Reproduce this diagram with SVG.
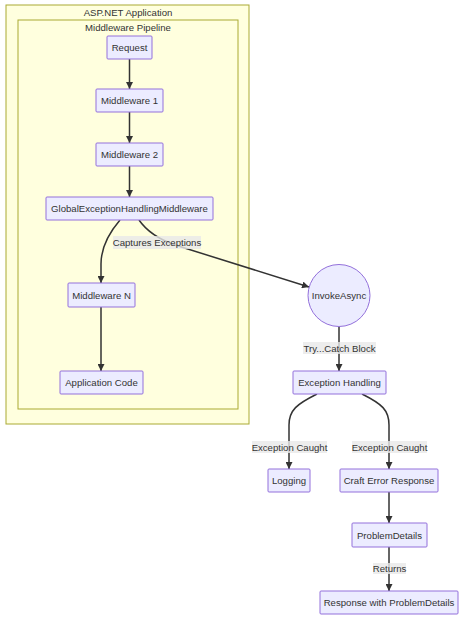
<svg xmlns="http://www.w3.org/2000/svg" width="474" height="620" viewBox="0 0 474 620">
<defs>
<style>
.cluster{fill:#ffffde;stroke:#aaaa33;stroke-width:1}
.node rect,.node circle{fill:#ECECFF;stroke:#9370DB;stroke-width:1}
text{font-family:"Liberation Sans",Arial,sans-serif;font-size:9.6px;fill:#333;text-anchor:middle;dominant-baseline:central}
.edge{fill:none;stroke:#333;stroke-width:1.5}
.lbl rect{fill:#e8e8e8;fill-opacity:0.8;stroke:none}
</style>
<marker id="arrow" viewBox="0 0 10 10" refX="10" refY="5" markerWidth="7" markerHeight="7" markerUnits="userSpaceOnUse" orient="auto">
<path d="M0,0 L10,5 L0,10 z" fill="#333"/>
</marker>
</defs>
<rect width="474" height="620" fill="#fff"/>
<g id="cluster-app">
<rect class="cluster" x="6" y="5" width="243" height="419"/>
<text x="128" y="12">ASP.NET Application</text>
</g>
<g id="cluster-pipeline">
<rect class="cluster" x="18" y="20" width="220" height="389"/>
<text x="128" y="27">Middleware Pipeline</text>
</g>
<g id="connectors">
<path class="edge" d="M129.5,59 L129.5,89" marker-end="url(#arrow)"/>
<path class="edge" d="M129.5,112 L129.5,143" marker-end="url(#arrow)"/>
<path class="edge" d="M129.5,166 L129.5,197" marker-end="url(#arrow)"/>
<path class="edge" d="M120,220 C108,234 101,248 101,264 L101,283" marker-end="url(#arrow)"/>
<path class="edge" d="M139,220 Q150,236 175,245 L309,287" marker-end="url(#arrow)"/>
<path class="edge" d="M339,326.5 L339,371" marker-end="url(#arrow)"/>
<path class="edge" d="M317,394 C297,404 289,410 289,425 L289,469" marker-end="url(#arrow)"/>
<path class="edge" d="M362,394 C382,404 389,410 389,425 L389,469" marker-end="url(#arrow)"/>
<path class="edge" d="M389,492 L389,523" marker-end="url(#arrow)"/>
<path class="edge" d="M389,547 L389,591" marker-end="url(#arrow)"/>
<path class="edge" d="M101,307 L101,371" marker-end="url(#arrow)"/>
<g class="lbl"><rect x="113" y="236" width="88" height="13"/><text x="157" y="242.5">Captures Exceptions</text></g>
<g class="lbl"><rect x="303" y="342" width="73" height="12"/><text x="339.5" y="348">Try...Catch Block</text></g>
<g class="lbl"><rect x="252" y="441" width="75" height="12"/><text x="289.5" y="447">Exception Caught</text></g>
<g class="lbl"><rect x="352" y="441" width="75" height="12"/><text x="389.5" y="447">Exception Caught</text></g>
<g class="lbl"><rect x="373" y="563" width="33" height="11"/><text x="389.5" y="568.5">Returns</text></g>
</g>
<g id="node-request" class="node"><rect x="107" y="36" width="45" height="23" rx="1"/><text x="129.5" y="47.5">Request</text></g>
<g id="node-mw1" class="node"><rect x="96" y="89" width="67" height="23" rx="1"/><text x="129.5" y="100.5">Middleware 1</text></g>
<g id="node-mw2" class="node"><rect x="96" y="143" width="67" height="23" rx="1"/><text x="129.5" y="154.5">Middleware 2</text></g>
<g id="node-global" class="node"><rect x="46" y="197" width="167" height="23" rx="1"/><text x="129.5" y="208.5">GlobalExceptionHandlingMiddleware</text></g>
<g id="node-mwn" class="node"><rect x="68" y="283" width="67" height="24" rx="1"/><text x="101.5" y="295">Middleware N</text></g>
<g id="node-appcode" class="node"><rect x="60" y="371" width="83" height="23" rx="1"/><text x="101.5" y="382.5">Application Code</text></g>
<g id="node-invoke" class="node"><circle cx="339" cy="295.5" r="31"/><text x="339" y="295.5">InvokeAsync</text></g>
<g id="node-exhandling" class="node"><rect x="293" y="371" width="93" height="23" rx="1"/><text x="339.5" y="382.5">Exception Handling</text></g>
<g id="node-logging" class="node"><rect x="268" y="469" width="42" height="23" rx="1"/><text x="289" y="480.5">Logging</text></g>
<g id="node-craft" class="node"><rect x="340" y="469" width="98" height="23" rx="1"/><text x="389" y="480.5">Craft Error Response</text></g>
<g id="node-pd" class="node"><rect x="352" y="523" width="75" height="24" rx="1"/><text x="389.5" y="535">ProblemDetails</text></g>
<g id="node-resp" class="node"><rect x="320" y="591" width="138" height="23" rx="1"/><text x="389" y="602.5">Response with ProblemDetails</text></g>
</svg>
